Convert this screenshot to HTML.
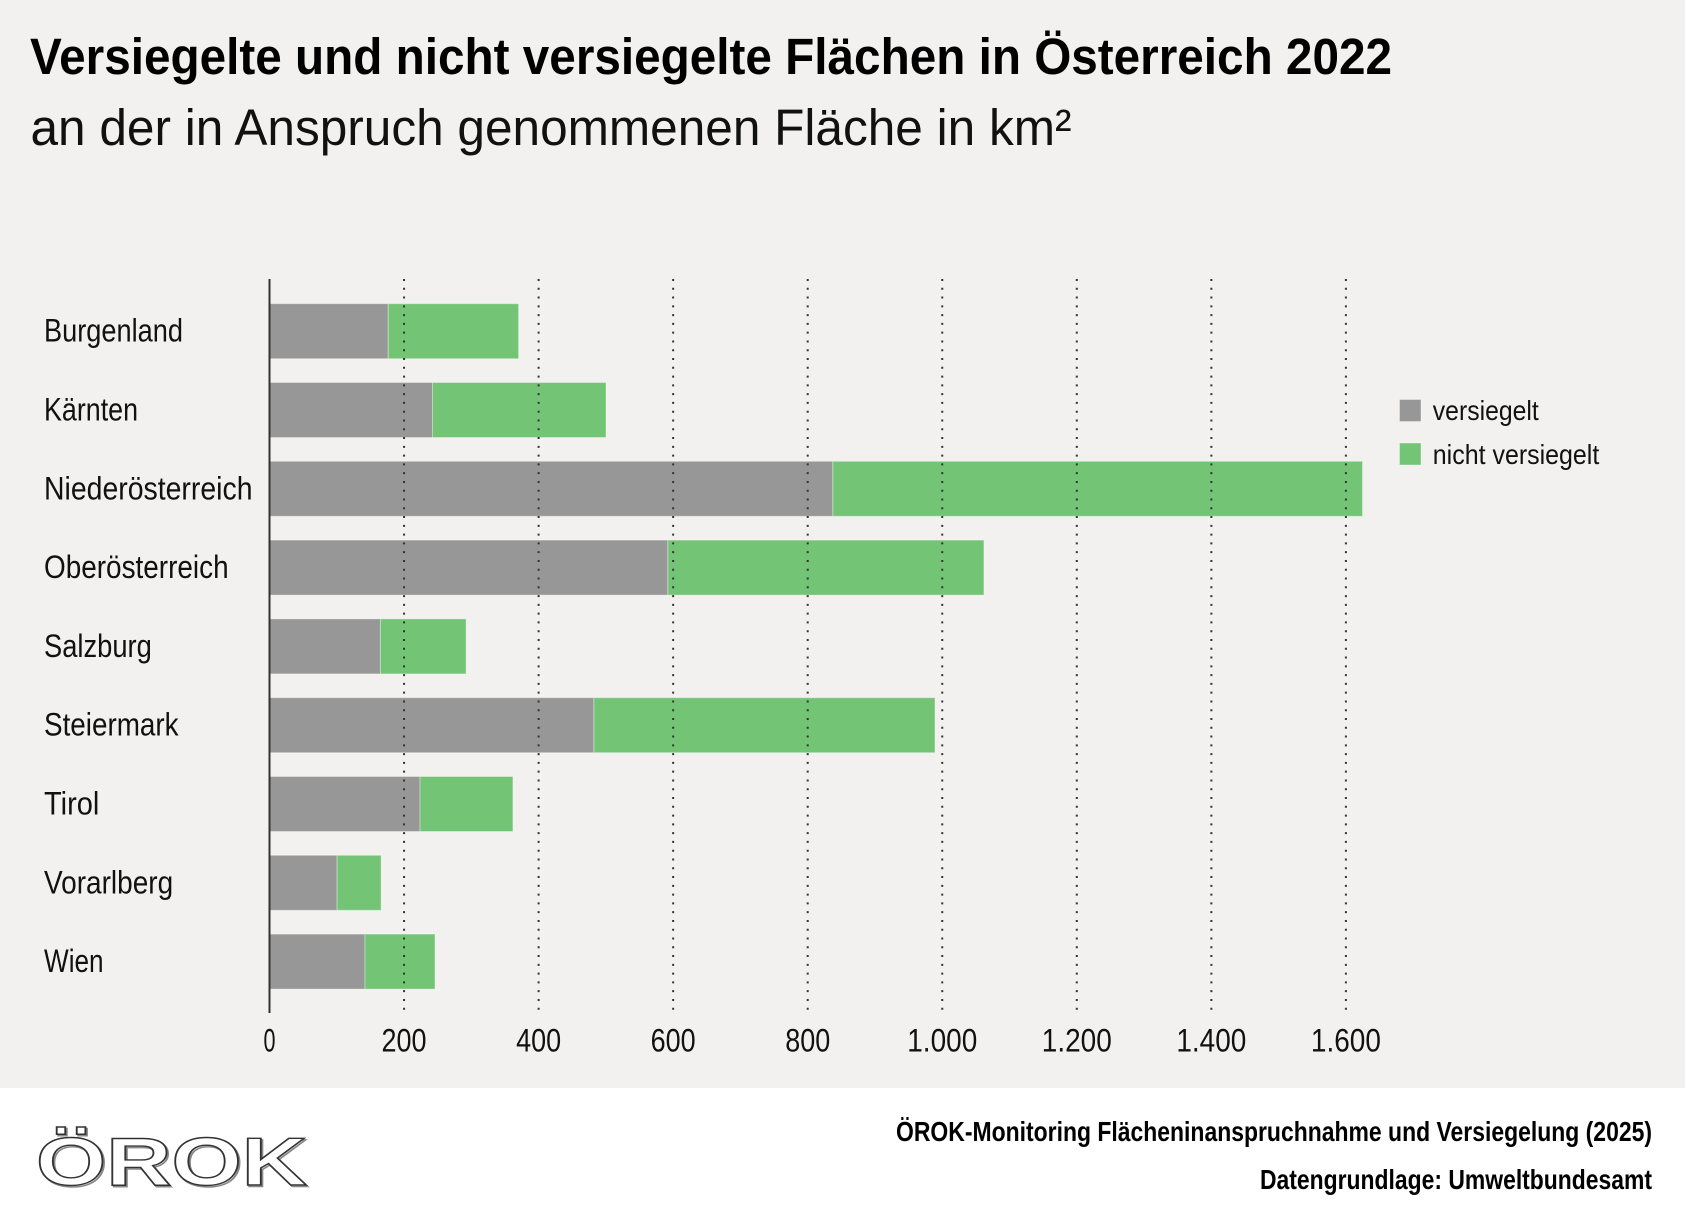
<!DOCTYPE html>
<html>
<head>
<meta charset="utf-8">
<style>
  html, body { margin: 0; padding: 0; background: #ffffff; }
  svg { display: block; }
  text { font-family: "Liberation Sans", "DejaVu Sans", sans-serif; }
</style>
</head>
<body>
<svg width="1685" height="1229" viewBox="0 0 1685 1229" xmlns="http://www.w3.org/2000/svg">
  <!-- backgrounds -->
  <rect x="0" y="0" width="1685" height="1088" fill="#f2f1ef"/>
  <rect x="0" y="1088" width="1685" height="141" fill="#ffffff"/>

  <!-- title -->
  <text x="30" y="74" font-size="51" font-weight="bold" fill="#000" textLength="1362" lengthAdjust="spacingAndGlyphs">Versiegelte und nicht versiegelte Flächen in Österreich 2022</text>
  <text x="30.5" y="145" font-size="51" fill="#111" textLength="1041" lengthAdjust="spacingAndGlyphs">an der in Anspruch genommenen Fläche in km²</text>

  <!-- bars -->
  <g stroke="rgba(255,255,255,0.35)" stroke-width="1">
    <rect x="269.5" y="303.7" width="118.7" height="55" fill="#979797"/>
    <rect x="388.2" y="303.7" width="130.4" height="55" fill="#74c476"/>

    <rect x="269.5" y="382.5" width="163" height="55" fill="#979797"/>
    <rect x="432.5" y="382.5" width="173.5" height="55" fill="#74c476"/>

    <rect x="269.5" y="461.3" width="563.4" height="55" fill="#979797"/>
    <rect x="832.9" y="461.3" width="529.6" height="55" fill="#74c476"/>

    <rect x="269.5" y="540.1" width="398.4" height="55" fill="#979797"/>
    <rect x="667.9" y="540.1" width="316" height="55" fill="#74c476"/>

    <rect x="269.5" y="618.9" width="110.9" height="55" fill="#979797"/>
    <rect x="380.4" y="618.9" width="85.7" height="55" fill="#74c476"/>

    <rect x="269.5" y="697.7" width="324.4" height="55" fill="#979797"/>
    <rect x="593.9" y="697.7" width="341.1" height="55" fill="#74c476"/>

    <rect x="269.5" y="776.5" width="150.5" height="55" fill="#979797"/>
    <rect x="420" y="776.5" width="92.9" height="55" fill="#74c476"/>

    <rect x="269.5" y="855.3" width="67.6" height="55" fill="#979797"/>
    <rect x="337.1" y="855.3" width="44" height="55" fill="#74c476"/>

    <rect x="269.5" y="934.1" width="95.5" height="55" fill="#979797"/>
    <rect x="365" y="934.1" width="70" height="55" fill="#74c476"/>
  </g>

  <!-- dotted gridlines (drawn over bars) -->
  <g stroke="#333" stroke-width="2" stroke-dasharray="2 6.78" fill="none">
    <line x1="404.05" y1="279" x2="404.05" y2="1013"/>
    <line x1="538.6" y1="279" x2="538.6" y2="1013"/>
    <line x1="673.15" y1="279" x2="673.15" y2="1013"/>
    <line x1="807.7" y1="279" x2="807.7" y2="1013"/>
    <line x1="942.25" y1="279" x2="942.25" y2="1013"/>
    <line x1="1076.8" y1="279" x2="1076.8" y2="1013"/>
    <line x1="1211.35" y1="279" x2="1211.35" y2="1013"/>
    <line x1="1345.9" y1="279" x2="1345.9" y2="1013"/>
  </g>

  <!-- y axis line -->
  <line x1="269.5" y1="279" x2="269.5" y2="1013" stroke="#333" stroke-width="2"/>

  <!-- category labels -->
  <g font-size="32" fill="#111">
    <text x="44" y="341.7" textLength="139" lengthAdjust="spacingAndGlyphs">Burgenland</text>
    <text x="44" y="420.5" textLength="94" lengthAdjust="spacingAndGlyphs">Kärnten</text>
    <text x="44" y="499.3" textLength="208.5" lengthAdjust="spacingAndGlyphs">Niederösterreich</text>
    <text x="44" y="578.1" textLength="184.6" lengthAdjust="spacingAndGlyphs">Oberösterreich</text>
    <text x="44" y="656.9" textLength="107.8" lengthAdjust="spacingAndGlyphs">Salzburg</text>
    <text x="44" y="735.7" textLength="134.6" lengthAdjust="spacingAndGlyphs">Steiermark</text>
    <text x="44" y="814.5" textLength="55.3" lengthAdjust="spacingAndGlyphs">Tirol</text>
    <text x="44" y="893.3" textLength="129.2" lengthAdjust="spacingAndGlyphs">Vorarlberg</text>
    <text x="44" y="972.1" textLength="59.6" lengthAdjust="spacingAndGlyphs">Wien</text>
  </g>

  <!-- x tick labels -->
  <g font-size="32" fill="#111" text-anchor="middle">
    <text x="269.5" y="1051.7" textLength="12" lengthAdjust="spacingAndGlyphs">0</text>
    <text x="404.05" y="1051.7" textLength="45" lengthAdjust="spacingAndGlyphs">200</text>
    <text x="538.6" y="1051.7" textLength="45" lengthAdjust="spacingAndGlyphs">400</text>
    <text x="673.15" y="1051.7" textLength="45" lengthAdjust="spacingAndGlyphs">600</text>
    <text x="807.7" y="1051.7" textLength="45" lengthAdjust="spacingAndGlyphs">800</text>
    <text x="942.25" y="1051.7" textLength="70" lengthAdjust="spacingAndGlyphs">1.000</text>
    <text x="1076.8" y="1051.7" textLength="70" lengthAdjust="spacingAndGlyphs">1.200</text>
    <text x="1211.35" y="1051.7" textLength="70" lengthAdjust="spacingAndGlyphs">1.400</text>
    <text x="1345.9" y="1051.7" textLength="70" lengthAdjust="spacingAndGlyphs">1.600</text>
  </g>

  <!-- legend -->
  <rect x="1399.5" y="399.5" width="21.5" height="22" fill="#979797" stroke="rgba(255,255,255,0.35)" stroke-width="1"/>
  <rect x="1399.5" y="443" width="21.5" height="22" fill="#74c476" stroke="rgba(255,255,255,0.35)" stroke-width="1"/>
  <g font-size="28" fill="#111">
    <text x="1432.8" y="420" textLength="106" lengthAdjust="spacingAndGlyphs">versiegelt</text>
    <text x="1432.8" y="464" textLength="166.5" lengthAdjust="spacingAndGlyphs">nicht versiegelt</text>
  </g>

  <!-- footer logo -->
  <g font-size="68" font-weight="bold">
    <text x="37.5" y="1186.5" fill="none" stroke="#888" stroke-width="1.5" textLength="271" lengthAdjust="spacingAndGlyphs">ÖROK</text>
    <text x="36" y="1185" fill="#ffffff" stroke="#333" stroke-width="1.4" textLength="271" lengthAdjust="spacingAndGlyphs">ÖROK</text>
  </g>

  <!-- footer source text -->
  <g font-size="28" font-weight="bold" fill="#000" text-anchor="end">
    <text x="1652" y="1141" textLength="756" lengthAdjust="spacingAndGlyphs">ÖROK-Monitoring Flächeninanspruchnahme und Versiegelung (2025)</text>
    <text x="1652" y="1189" textLength="392" lengthAdjust="spacingAndGlyphs">Datengrundlage: Umweltbundesamt</text>
  </g>
</svg>
</body>
</html>
